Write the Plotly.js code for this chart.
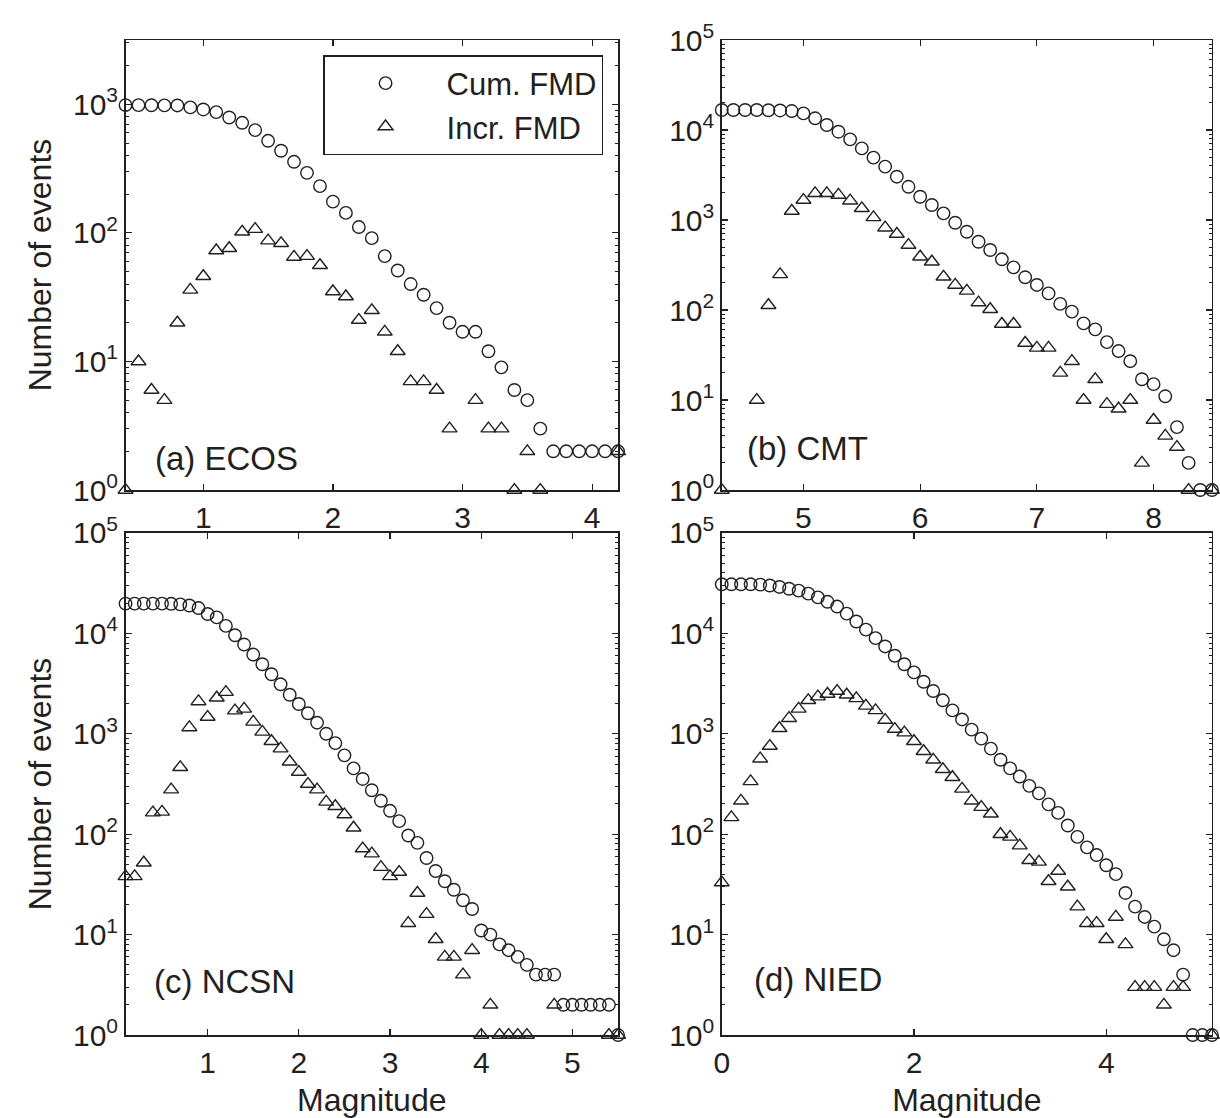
<!DOCTYPE html>
<html>
<head>
<meta charset="utf-8">
<script src="https://cdn.plot.ly/plotly-3.0.1.min.js"></script>
<style>
  html, body { margin: 0; padding: 0; background: #fff; }
  #chart { width: 1220px; height: 1118px; }
</style>
</head>
<body>
<div id="chart"></div>
<script>
// ---------- Data ----------
// (a) ECOS
const magA = [0.4,0.5,0.6,0.7,0.8,0.9,1.0,1.1,1.2,1.3,1.4,1.5,1.6,1.7,1.8,1.9,2.0,2.1,2.2,2.3,2.4,2.5,2.6,2.7,2.8,2.9,3.0,3.1,3.2,3.3,3.4,3.5,3.6,3.7,3.8,3.9,4.0,4.1,4.2];
const cumA = [985,985,983,981,980,946,912,870,790,718,630,520,435,357,293,231,175,143,111,91,66,51,40,33,26,20,17,17,12,9,6,5,3,2,2,2,2,2,2];
const incA = [1,10,6,5,20,36,46,73,76,102,107,87,83,65,66,56,35,32,21,25,17,12,7,7,6,3,null,5,3,3,1,2,1,null,null,null,null,null,2];

// (b) CMT
const magB = [4.3,4.4,4.5,4.6,4.7,4.8,4.9,5.0,5.1,5.2,5.3,5.4,5.5,5.6,5.7,5.8,5.9,6.0,6.1,6.2,6.3,6.4,6.5,6.6,6.7,6.8,6.9,7.0,7.1,7.2,7.3,7.4,7.5,7.6,7.7,7.8,7.9,8.0,8.1,8.2,8.3,8.4,8.5];
const cumB = [16700,16700,16700,16700,16600,16500,16250,15300,13500,11370,9580,7880,6250,4930,3920,3030,2340,1815,1468,1186,933,741,574,464,366,298,231,190,153,117,96,71,61,44,35,27,17,15,11,5,2,1,1];
const incB = [1,null,null,10,113,249,1260,1667,1980,1980,1900,1640,1350,1070,822,699,527,391,344,234,190,163,121,102,70,70,43,38,38,20,27,10,17,9,8,10,2,6,4,3,1,null,1];

// (c) NCSN
const magC = [0.1,0.2,0.3,0.4,0.5,0.6,0.7,0.8,0.9,1.0,1.1,1.2,1.3,1.4,1.5,1.6,1.7,1.8,1.9,2.0,2.1,2.2,2.3,2.4,2.5,2.6,2.7,2.8,2.9,3.0,3.1,3.2,3.3,3.4,3.5,3.6,3.7,3.8,3.9,4.0,4.1,4.2,4.3,4.4,4.5,4.6,4.7,4.8,4.9,5.0,5.1,5.2,5.3,5.4,5.5];
const cumC = [19800,19800,19800,19800,19800,19700,19450,18950,17870,15590,14430,11870,9580,7740,6150,4930,3920,3110,2450,1980,1600,1290,1000,808,610,452,355,274,215,171,135,97,82,58,43,34,28,22,18,11,10,8,7,6,5,4,4,4,2,2,2,2,2,2,1];
const incC = [38,38,52,164,167,278,464,1157,2100,1468,2285,2600,1700,1770,1315,1045,843,711,527,416,316,278,210,190,157,116,72,64,47,38,42,13,26,16,9,6,6,4,7,1,2,1,1,1,1,null,null,2,null,null,null,null,null,1,1];

// (d) NIED
const magD = [0.0,0.1,0.2,0.3,0.4,0.5,0.6,0.7,0.8,0.9,1.0,1.1,1.2,1.3,1.4,1.5,1.6,1.7,1.8,1.9,2.0,2.1,2.2,2.3,2.4,2.5,2.6,2.7,2.8,2.9,3.0,3.1,3.2,3.3,3.4,3.5,3.6,3.7,3.8,3.9,4.0,4.1,4.2,4.3,4.4,4.5,4.6,4.7,4.8,4.9,5.0,5.1];
const cumD = [30800,30800,30800,30800,30600,30000,29000,27800,26650,24900,22850,20630,18490,15710,13140,10890,8960,7410,5990,4930,4085,3300,2670,2155,1710,1390,1100,895,711,551,452,375,303,255,198,163,122,94,74,62,49,40,26,19,15,12,9,7,4,1,1,1];
const incD = [33,147,215,336,565,755,1136,1430,1770,2155,2345,2490,2665,2450,2250,1895,1710,1370,1115,1026,843,670,551,444,369,283,215,186,160,100,94,77,55,53,34,43,30,19,13,13,9,15,8,3,3,3,2,3,3,null,null,1];

// Tick labels
const yTickValsA = [1, 10, 100, 1000];
const yTickTextA = ['10<sup>0</sup>', '10<sup>1</sup>', '10<sup>2</sup>', '10<sup>3</sup>'];
const yTickVals = [1, 10, 100, 1000, 10000, 100000];
const yTickText = ['10<sup>0</sup>', '10<sup>1</sup>', '10<sup>2</sup>', '10<sup>3</sup>', '10<sup>4</sup>', '10<sup>5</sup>'];
const panelLabels = ['(a) ECOS', '(b) CMT', '(c) NCSN', '(d) NIED'];
const seriesNames = ['Cum. FMD', 'Incr. FMD'];

// ---------- Styling ----------
const INK = '#231f20';
const FONT = 'Liberation Sans, Arial, Helvetica, sans-serif';

function cumTrace(x, y, xa, ya, show) {
  return {
    x: x, y: y, xaxis: xa, yaxis: ya, type: 'scatter', mode: 'markers',
    name: seriesNames[0], showlegend: show, cliponaxis: false,
    marker: { symbol: 'circle-open', size: 12.5, color: INK, line: { width: 1.4, color: INK } }
  };
}
function incTrace(x, y, xa, ya, show) {
  return {
    x: x, y: y, xaxis: xa, yaxis: ya, type: 'scatter', mode: 'markers',
    name: seriesNames[1], showlegend: show, cliponaxis: false,
    marker: { symbol: 'triangle-up-open', size: 13, color: INK, line: { width: 1.4, color: INK } }
  };
}

const data = [
  cumTrace(magA, cumA, 'x', 'y', true),
  incTrace(magA, incA, 'x', 'y', true),
  cumTrace(magB, cumB, 'x2', 'y2', false),
  incTrace(magB, incB, 'x2', 'y2', false),
  cumTrace(magC, cumC, 'x3', 'y3', false),
  incTrace(magC, incC, 'x3', 'y3', false),
  cumTrace(magD, cumD, 'x4', 'y4', false),
  incTrace(magD, incD, 'x4', 'y4', false)
];

function xAxis(domain, range, dtick, anchor, title) {
  const ax = {
    domain: domain, range: range, anchor: anchor, dtick: dtick, tick0: 0,
    showline: true, linecolor: INK, linewidth: 1.5, mirror: 'ticks',
    ticks: 'inside', ticklen: 6, tickwidth: 1.2, tickcolor: INK,
    showgrid: false, zeroline: false,
    tickfont: { family: FONT, size: 30, color: INK }
  };
  if (title) ax.title = { text: title, font: { family: FONT, size: 32, color: INK } };
  return ax;
}
function yAxis(domain, range, vals, text, anchor, title) {
  const ax = {
    domain: domain, range: range, anchor: anchor, type: 'log',
    tickmode: 'array', tickvals: vals, ticktext: text,
    showline: true, linecolor: INK, linewidth: 1.5, mirror: 'ticks',
    ticks: 'inside', ticklen: 6, tickwidth: 1.2, tickcolor: INK,
    minor: { ticks: 'inside', ticklen: 3, tickwidth: 1, tickcolor: INK, dtick: 'D1', showgrid: false },
    showgrid: false, zeroline: false,
    tickfont: { family: FONT, size: 30, color: INK }
  };
  if (title) ax.title = { text: title, font: { family: FONT, size: 32, color: INK } };
  return ax;
}

const colL = [0.1029, 0.5066];
const colR = [0.5916, 0.9934];
const rowT = [0.5617, 0.9642];
const rowB = [0.0742, 0.5233];

function panelNote(i, xr, yr, x, y) {
  return {
    text: panelLabels[i], xref: xr + ' domain', yref: yr + ' domain',
    x: x, y: y, xanchor: 'left', yanchor: 'middle', showarrow: false,
    font: { family: FONT, size: 33, color: INK }
  };
}

const layout = {
  width: 1220, height: 1118,
  margin: { l: 0, r: 0, t: 0, b: 0 },
  paper_bgcolor: '#ffffff', plot_bgcolor: '#ffffff',
  showlegend: true,
  font: { family: FONT, color: INK },
  xaxis: xAxis(colL, [0.4, 4.2], 1, 'y', null),
  yaxis: yAxis(rowT, [0, 3.5], yTickValsA, yTickTextA, 'x', 'Number of events'),
  xaxis2: xAxis(colR, [4.3, 8.5], 1, 'y2', null),
  yaxis2: yAxis(rowT, [0, 5], yTickVals, yTickText, 'x2', null),
  xaxis3: xAxis(colL, [0.1, 5.5], 1, 'y3', 'Magnitude'),
  yaxis3: yAxis(rowB, [0, 5], yTickVals, yTickText, 'x3', 'Number of events'),
  xaxis4: xAxis(colR, [0, 5.1], 2, 'y4', 'Magnitude'),
  yaxis4: yAxis(rowB, [0, 5], yTickVals, yTickText, 'x4', null),
  legend: {
    x: 0.2648, y: 0.9508, xanchor: 'left', yanchor: 'top',
    bgcolor: '#ffffff', bordercolor: INK, borderwidth: 1.5,
    font: { family: FONT, size: 31, color: INK },
    itemwidth: 112, tracegroupgap: 0
  },
  annotations: [
    panelNote(0, 'x', 'y', 0.056, 0.071),
    panelNote(1, 'x2', 'y2', 0.048, 0.093),
    panelNote(2, 'x3', 'y3', 0.053, 0.107),
    panelNote(3, 'x4', 'y4', 0.061, 0.111)
  ]
};

Plotly.newPlot('chart', data, layout, { displayModeBar: false, staticPlot: true });
</script>
</body>
</html>
